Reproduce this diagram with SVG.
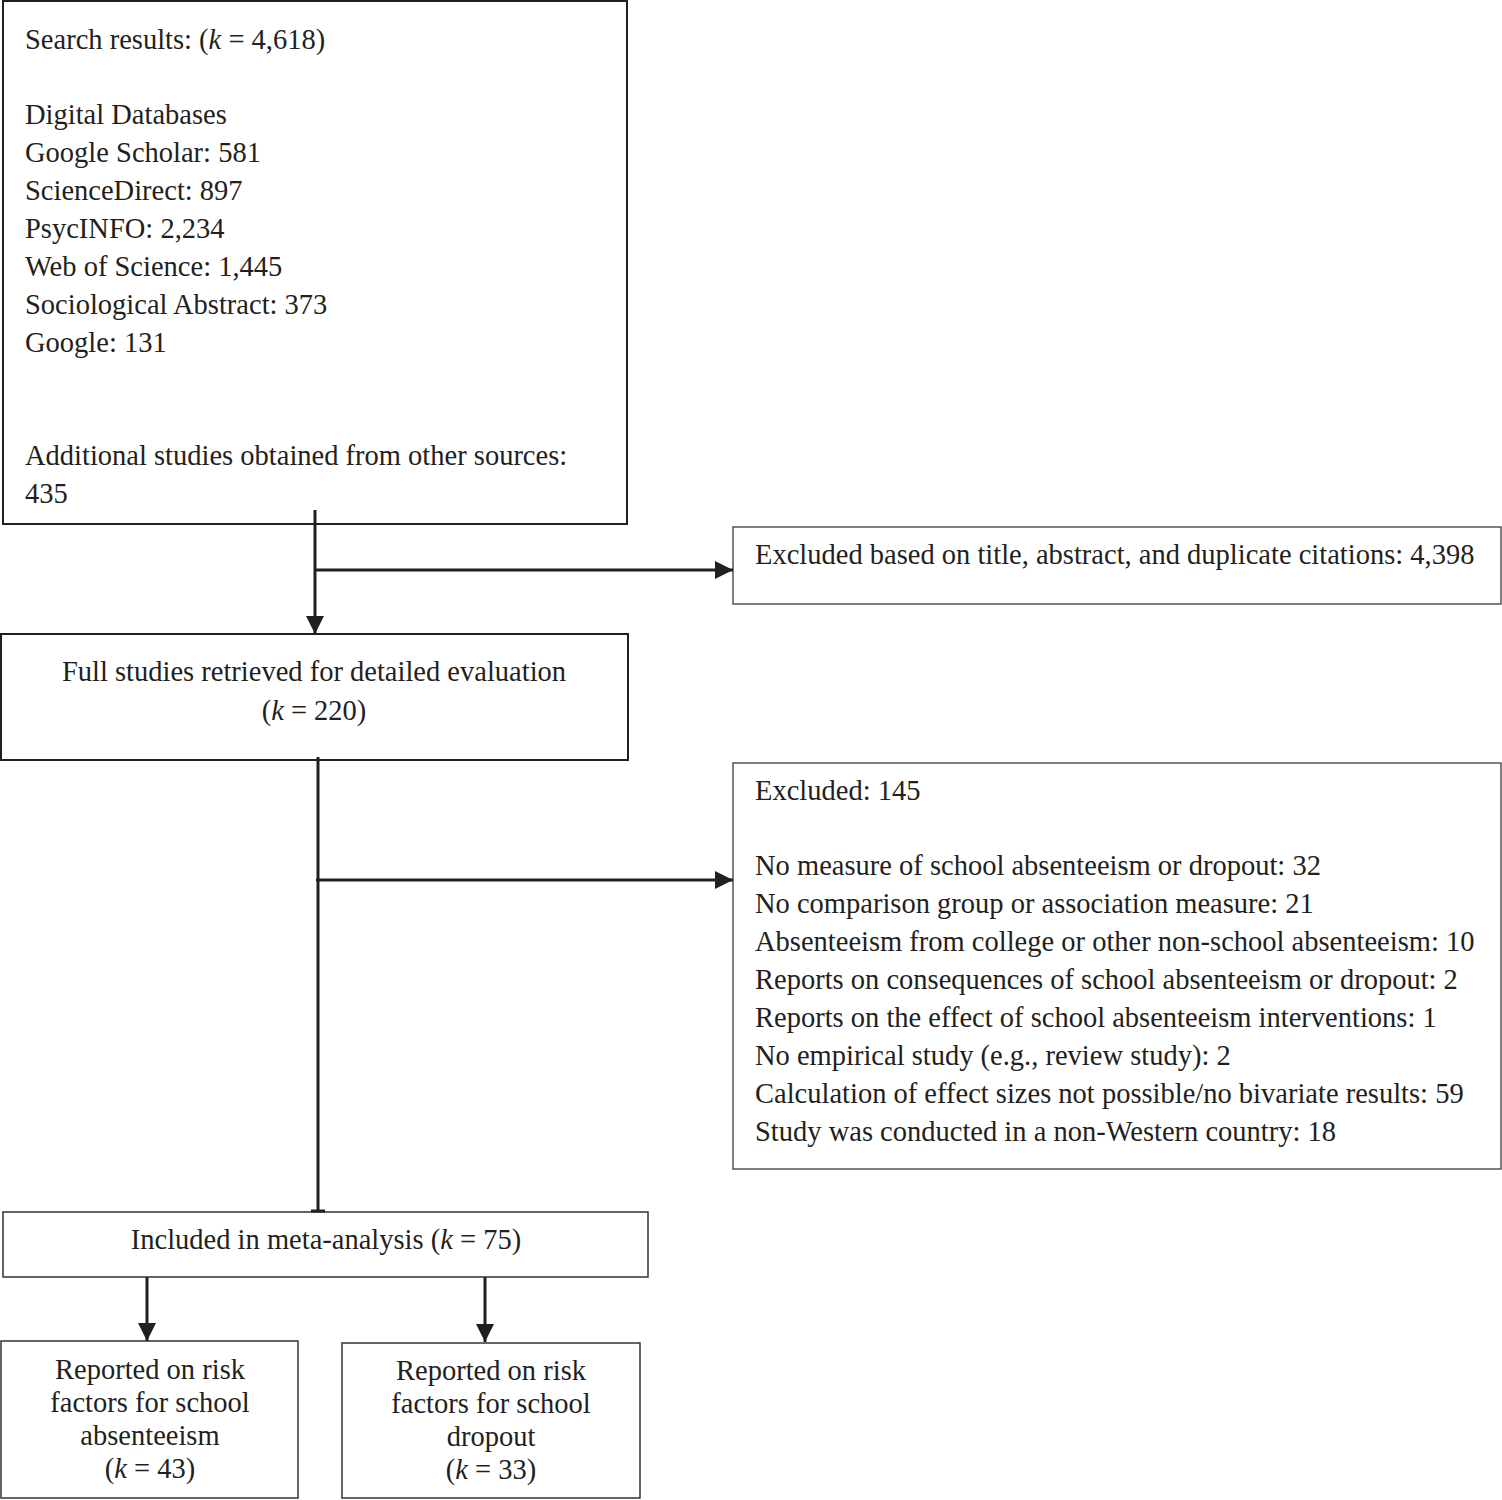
<svg xmlns="http://www.w3.org/2000/svg" width="1502" height="1500" viewBox="0 0 1502 1500">
<style>
.b{fill:#fff;stroke:#231f20;stroke-width:2}
text{font-family:"Liberation Serif","Times New Roman",serif;font-size:28.5px;fill:#231f20}
.c{text-anchor:middle}
.ln{stroke:#231f20;stroke-width:3;fill:none}
</style>
<defs>
<marker id="ah" viewBox="0 0 18 18" refX="18" refY="9" markerWidth="18" markerHeight="18" orient="auto" markerUnits="userSpaceOnUse">
<path d="M0,0 L18,9 L0,18 Z" fill="#231f20"/>
</marker>
</defs>
<g id="search">
<rect class="b" x="3" y="1" width="624" height="523"/>
<text x="25" y="49">Search results: (<tspan font-style="italic">k</tspan> = 4,618)</text>
<text x="25" y="124">Digital Databases</text>
<text x="25" y="162">Google Scholar: 581</text>
<text x="25" y="200">ScienceDirect: 897</text>
<text x="25" y="238">PsycINFO: 2,234</text>
<text x="25" y="276">Web of Science: 1,445</text>
<text x="25" y="314">Sociological Abstract: 373</text>
<text x="25" y="352">Google: 131</text>
<text x="25" y="465">Additional studies obtained from other sources:</text>
<text x="25" y="503">435</text>
</g>
<g id="excluded1">
<rect class="b" x="733" y="527" width="768" height="77" style="stroke-width:1.5;stroke:#555"/>
<text x="755" y="564">Excluded based on title, abstract, and duplicate citations: 4,398</text>
</g>
<g id="full">
<rect class="b" x="1" y="634" width="627" height="126"/>
<text class="c" x="314" y="681">Full studies retrieved for detailed evaluation</text>
<text class="c" x="314" y="720">(<tspan font-style="italic">k</tspan> = 220)</text>
</g>
<g id="excluded2">
<rect class="b" x="733" y="763" width="768" height="406" style="stroke-width:1.5;stroke:#555"/>
<text x="755" y="800">Excluded: 145</text>
<text x="755" y="875">No measure of school absenteeism or dropout: 32</text>
<text x="755" y="913">No comparison group or association measure: 21</text>
<text x="755" y="951">Absenteeism from college or other non-school absenteeism: 10</text>
<text x="755" y="989">Reports on consequences of school absenteeism or dropout: 2</text>
<text x="755" y="1027">Reports on the effect of school absenteeism interventions: 1</text>
<text x="755" y="1065">No empirical study (e.g., review study): 2</text>
<text x="755" y="1103">Calculation of effect sizes not possible/no bivariate results: 59</text>
<text x="755" y="1141">Study was conducted in a non-Western country: 18</text>
</g>
<g id="included">
<rect class="b" x="3" y="1212" width="645" height="65" style="stroke-width:1.5;stroke:#333"/>
<text class="c" x="326" y="1249">Included in meta-analysis (<tspan font-style="italic">k</tspan> = 75)</text>
</g>
<g id="absenteeism">
<rect class="b" x="1" y="1341" width="297" height="157" style="stroke-width:1.5;stroke:#333"/>
<text class="c" x="150" y="1379">Reported on risk</text>
<text class="c" x="150" y="1412">factors for school</text>
<text class="c" x="150" y="1445">absenteeism</text>
<text class="c" x="150" y="1478">(<tspan font-style="italic">k</tspan> = 43)</text>
</g>
<g id="dropout">
<rect class="b" x="342" y="1343" width="298" height="155" style="stroke-width:1.5;stroke:#333"/>
<text class="c" x="491" y="1380">Reported on risk</text>
<text class="c" x="491" y="1413">factors for school</text>
<text class="c" x="491" y="1446">dropout</text>
<text class="c" x="491" y="1479">(<tspan font-style="italic">k</tspan> = 33)</text>
</g>
<g id="connectors">
<line class="ln" x1="315" y1="510" x2="315" y2="634" marker-end="url(#ah)"/>
<line class="ln" x1="315" y1="570" x2="733" y2="570" marker-end="url(#ah)"/>
<line class="ln" x1="318" y1="757" x2="318" y2="1212"/>
<line class="ln" x1="311" y1="1211" x2="325" y2="1211"/>
<line class="ln" x1="316" y1="880" x2="733" y2="880" marker-end="url(#ah)"/>
<line class="ln" x1="147" y1="1277" x2="147" y2="1341" marker-end="url(#ah)"/>
<line class="ln" x1="485" y1="1277" x2="485" y2="1342" marker-end="url(#ah)"/>
</g>
</svg>
